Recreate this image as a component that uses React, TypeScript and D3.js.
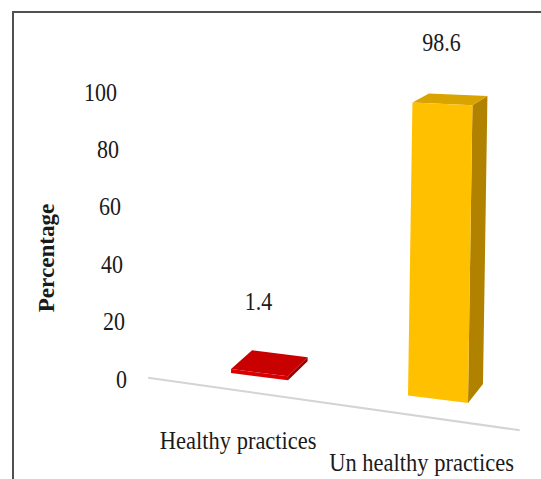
import React from "react";
import * as d3 from "d3";

// ---- data ----
const categories = ["Healthy practices", "Un healthy practices"];
const values = [1.4, 98.6];
const valueLabels = ["1.4", "98.6"];
const yTicks = [0, 20, 40, 60, 80, 100];
const yTickLabels = ["0", "20", "40", "60", "80", "100"];
const yTitle = "Percentage";

// ---- styles ----
const frontColors = ["#D80000", "#FFC000"];
const topColors = ["#C80000", "#D9A300"];
const sideColors = ["#9A0000", "#B08200"];
const FONT = "'Liberation Serif', 'Times New Roman', serif";
const STRETCH = 1.12;

const W = 541;
const H = 479;

export default function App() {
  const xBand = d3
    .scaleBand<string>()
    .domain(categories)
    .range([231, 468])
    .paddingInner(0.661)
    .paddingOuter(0);

  // perspective helpers
  const baseY = d3.scaleLinear().domain([231, 468]).range([373, 403]);
  const unitH = d3.scaleLinear().domain([408, 468]).range([297, 302]);
  const depthDx = d3.scaleLinear().domain([231, 468]).range([21, 15]);
  const depthDy = d3.scaleLinear().domain([0, 100]).range([-19, -9]);
  const lean = d3.scaleLinear().domain([0, 100]).range([0, 4.5]);
  const vFrac = d3.scaleLinear().domain([0, 100]).range([0, 1]);

  const project = (X: number, v: number, d: number): [number, number] => {
    const fx = X + lean(v);
    const fy = baseY(X) - unitH(X) * vFrac(v);
    return [fx + d * depthDx(X), fy + d * depthDy(v)];
  };

  const tickY = d3.scaleLinear().domain([0, 100]).range([379, 92]);
  const tickX = d3.scaleLinear().domain([0, 100]).range([127, 117]);

  const poly = (pts: [number, number][]) => pts.map((p) => p.join(",")).join(" ");

  const floorA = project(164, 0, -0.7);
  const floorB = project(533, 0, -1.0);

  const T = (x: number, y: number, extra = "") =>
    `translate(${x},${y}) ${extra} scale(1,${STRETCH})`;

  return (
    <svg
      width={W}
      height={H}
      viewBox={`0 0 ${W} ${H}`}
      style={{ position: "absolute", left: 0, top: 0, background: "#fff" }}
      fontFamily={FONT}
    >
      <rect x={0} y={0} width={W} height={H} fill="#fff" />
      <line x1={13} y1={12} x2={W} y2={12} stroke="#505050" strokeWidth={2} />
      <line x1={13} y1={11} x2={13} y2={H} stroke="#505050" strokeWidth={2} />

      <line
        x1={floorA[0]}
        y1={floorA[1]}
        x2={floorB[0]}
        y2={floorB[1]}
        stroke="#d4d4d4"
        strokeWidth={2}
      />

      {yTicks.map((t, i) => (
        <text
          key={t}
          transform={T(tickX(t), tickY(t))}
          dy="0.35em"
          textAnchor="end"
          fontSize={22}
          fill="#1a1a1a"
        >
          {yTickLabels[i]}
        </text>
      ))}

      <text
        transform={`translate(46,258) rotate(-90) scale(1.1,1.05)`}
        textAnchor="middle"
        dy="0.35em"
        fontSize={21}
        fontWeight="bold"
        fill="#1a1a1a"
      >
        {yTitle}
      </text>

      {categories.map((c, i) => {
        const x0 = xBand(c) as number;
        const x1 = x0 + xBand.bandwidth() * (unitH(x0) / unitH(408));
        const v = values[i];
        const front: [number, number][] = [
          project(x0, 0, 0),
          project(x1, 0, 0),
          project(x1, v, 0),
          project(x0, v, 0),
        ];
        const side: [number, number][] = [
          project(x1, 0, 0),
          project(x1, 0, 1),
          project(x1, v, 1),
          project(x1, v, 0),
        ];
        const top: [number, number][] = [
          project(x0, v, 0),
          project(x1, v, 0),
          project(x1, v, 1),
          project(x0, v, 1),
        ];
        const xc = (x0 + x1) / 2;
        const frontTop = project(xc, v, 0);
        const backTop = project(xc, v, 1);
        const labelFloor = project(xc, 0, -1.1);
        return (
          <g key={c}>
            <polygon points={poly(side)} fill={sideColors[i]} />
            <polygon points={poly(top)} fill={topColors[i]} />
            <polygon points={poly(front)} fill={frontColors[i]} />
            <text
              transform={T(frontTop[0] - 1, backTop[1] - 52)}
              dy="0.35em"
              textAnchor="middle"
              fontSize={22}
              fill="#1a1a1a"
            >
              {valueLabels[i]}
            </text>
            <text
              transform={T(labelFloor[0] + 1, labelFloor[1] + 51)}
              textAnchor="middle"
              fontSize={22.5}
              fill="#1a1a1a"
            >
              {c}
            </text>
          </g>
        );
      })}
    </svg>
  );
}
